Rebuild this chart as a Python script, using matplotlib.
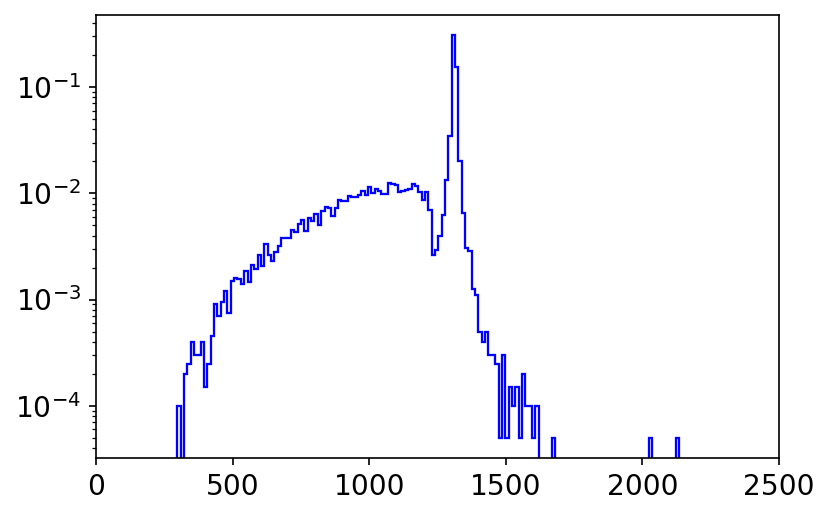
import numpy as np
import matplotlib
matplotlib.use("Agg")
import matplotlib.pyplot as plt

# histogram definition
bin_start = 297.4
bin_width = 12.25
n_bins = 150

# fraction of events per bin, bins 0..107
main_fractions = [
    1e-4, 0, 2e-4, 2.5e-4, 4e-4, 3e-4, 3e-4, 4e-4, 1.5e-4, 2.5e-4,
    4.5e-4, 9e-4, 7e-4, 9.5e-4, 1.2e-3, 7.5e-4, 1.5e-3, 1.6e-3, 1.55e-3, 1.4e-3,
    1.85e-3, 1.45e-3, 2.1e-3, 1.95e-3, 2.65e-3, 2.05e-3, 3.35e-3, 2.65e-3, 2.3e-3, 2.8e-3,
    3.2e-3, 3.8e-3, 3.8e-3, 3.8e-3, 4.55e-3, 4.3e-3, 5.15e-3, 5.55e-3, 4.45e-3, 5.85e-3,
    5.5e-3, 6.4e-3, 5.0e-3, 6.75e-3, 7.5e-3, 7.2e-3, 6.05e-3, 7.3e-3, 8.55e-3, 8.4e-3,
    8.4e-3, 9.5e-3, 9.2e-3, 9.2e-3, 9.7e-3, 1.04e-2, 9.6e-3, 1.145e-2, 1.0e-2, 1.1e-2,
    1.04e-2, 9.8e-3, 9.8e-3, 1.26e-2, 1.22e-2, 1.2e-2, 1.02e-2, 1.06e-2, 1.08e-2, 1.1e-2,
    1.22e-2, 1.16e-2, 1.02e-2, 8.7e-3, 1.02e-2, 7.0e-3, 2.65e-3, 2.95e-3, 4.0e-3, 6.3e-3,
    1.32e-2, 3.47e-2, 0.307, 0.155, 1.99e-2, 6.5e-3, 3.05e-3, 2.85e-3, 1.25e-3, 1.1e-3,
    5e-4, 4e-4, 5e-4, 3e-4, 3e-4, 2.5e-4, 5e-5, 3e-4, 5e-5, 1.5e-4,
    1e-4, 1.5e-4, 5e-5, 2e-4, 1e-4, 1e-4, 5e-5, 1e-4,
]
# isolated single-event bins further out
outlier_bins = [112, 141, 149]
outlier_fractions = [5e-5, 5e-5, 5e-5]

xticks = [0, 500, 1000, 1500, 2000, 2500]

fractions = np.zeros(n_bins)
fractions[:len(main_fractions)] = main_fractions
fractions[outlier_bins] = outlier_fractions
edges = bin_start + bin_width * np.arange(n_bins + 1)
centers = 0.5 * (edges[:-1] + edges[1:])

dpi = 150
fig = plt.figure(figsize=(830 / dpi, 515 / dpi), dpi=dpi)
ax = fig.add_axes([96 / 830, 1 - 458 / 515, (779 - 96) / 830, (458 - 15) / 515])
ax.set_yscale("log")
ax.hist(centers, bins=edges, weights=fractions, histtype="step",
        color="blue", linewidth=1.1)
ax.set_xlim(0, 2500)
ax.set_xticks(xticks)
ax.tick_params(labelsize=13.5)
fig.savefig("out.png", dpi=dpi)
